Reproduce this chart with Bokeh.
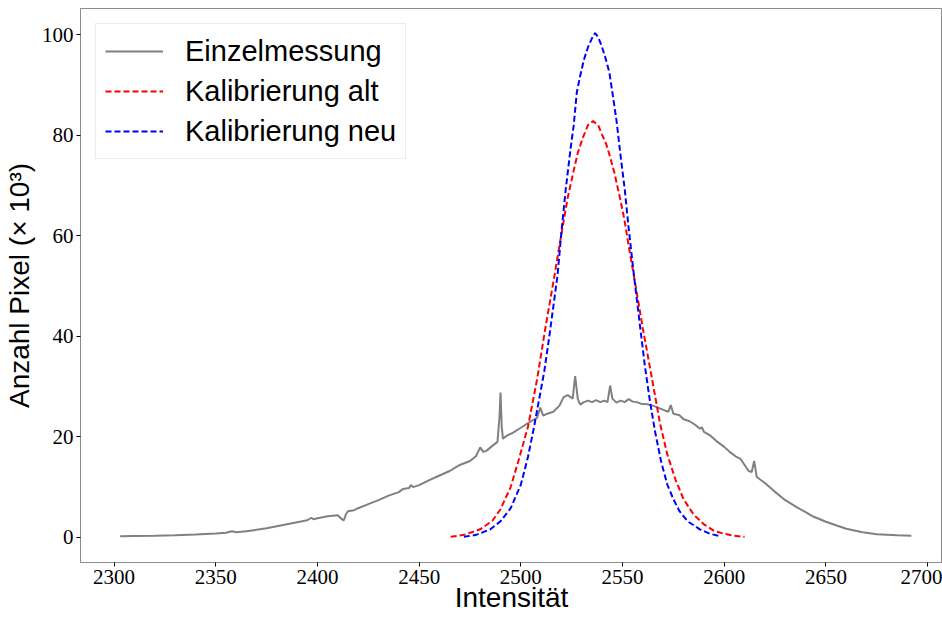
from bokeh.plotting import figure
from bokeh.models import Range1d, Legend, LegendItem, FixedTicker
from bokeh.embed import file_html
from bokeh.resources import INLINE

# Einzelmessung: histogram of a single measurement (counts in thousands)
einzel_x = [2303, 2310, 2320, 2330, 2340, 2350, 2355, 2358, 2360, 2365, 2370, 2375,
            2380, 2385, 2390, 2395, 2397, 2398, 2400, 2405, 2410, 2412, 2413, 2414,
            2415, 2418, 2420, 2425, 2430, 2435, 2440, 2442, 2445, 2446, 2447, 2450,
            2455, 2460, 2465, 2470, 2475, 2478, 2480, 2481.5, 2483, 2486, 2488.5,
            2489.5, 2490, 2490.6, 2491.2, 2493, 2496, 2500, 2503, 2506, 2508, 2509.5,
            2511, 2513, 2516, 2519, 2521, 2523, 2524.5, 2525.5, 2526.7, 2528, 2529.2,
            2531, 2533, 2535, 2537, 2539, 2541, 2542.6, 2543.9, 2545, 2547, 2549,
            2551, 2553, 2555, 2557, 2559, 2562, 2565.5, 2568, 2571, 2572.5, 2573.7,
            2575, 2578, 2580, 2583, 2586, 2588, 2589, 2590, 2593, 2596, 2600, 2603,
            2606, 2608, 2610, 2612, 2613.5, 2614.7, 2616, 2620, 2624.5, 2630, 2636,
            2640, 2644, 2650, 2655.6, 2660, 2668, 2675, 2685, 2692]
einzel_y = [0.2, 0.25, 0.3, 0.4, 0.55, 0.75, 0.9, 1.2, 1.0, 1.2, 1.5, 1.8,
            2.2, 2.6, 3.0, 3.4, 3.9, 3.6, 3.8, 4.2, 4.4, 3.6, 3.4, 4.6,
            5.2, 5.4, 5.8, 6.6, 7.4, 8.3, 9.0, 9.6, 9.8, 10.4, 10.0, 10.4,
            11.4, 12.3, 13.2, 14.4, 15.2, 16.2, 17.9, 17.0, 17.2, 18.2, 19.0,
            24.0, 28.8, 22.0, 19.6, 20.2, 20.8, 21.8, 22.6, 23.3, 23.8, 25.8,
            24.2, 24.6, 25.0, 26.2, 27.9, 28.3, 27.9, 27.6, 32.1, 27.5, 26.4,
            26.9, 27.2, 26.9, 27.3, 26.9, 27.2, 26.9, 30.2, 27.6, 26.8, 27.2,
            26.9, 27.5, 27.0, 26.9, 26.6, 26.5, 26.1, 25.7, 25.2, 25.0, 26.3,
            24.6, 24.3, 23.5, 23.1, 22.3, 21.6, 21.9, 21.0, 20.3, 19.2, 18.0, 16.9,
            16.0, 15.6, 14.4, 13.2, 13.0, 15.2, 12.0, 10.8, 9.2, 7.4, 5.9,
            5.0, 4.1, 3.1, 2.3, 1.7, 1.0, 0.6, 0.4, 0.3]

# Kalibrierung alt
alt_x = [2465.5, 2472, 2480, 2486, 2490, 2495, 2499, 2503.5, 2508, 2512, 2516.5, 2520,
         2523, 2526, 2528, 2530.5, 2533, 2535.5, 2538, 2540, 2542, 2544, 2546, 2549,
         2551, 2553, 2556, 2560, 2564.5, 2568.5, 2572, 2576, 2580, 2585, 2590, 2595,
         2600, 2605, 2610]
alt_y = [0.1, 0.5, 1.6, 3.3, 5.6, 10.0, 15.5, 22.0, 31.5, 41.5, 52.0, 60.5,
         67.5, 73.0, 76.5, 79.5, 82.0, 82.8, 82.0, 80.0, 78.2, 75.5, 72.5, 67.0,
         63.0, 58.0, 51.0, 41.5, 31.5, 22.5, 16.5, 11.5, 7.6, 4.5, 2.6, 1.3,
         0.7, 0.3, 0.1]

# Kalibrierung neu
neu_x = [2472, 2478, 2485, 2490, 2495, 2500, 2503.5, 2506.5, 2509, 2511.5, 2514, 2516,
         2518, 2520, 2522, 2524.5, 2526, 2527.5, 2529, 2531, 2533, 2535, 2536.5, 2538,
         2539.5, 2541.5, 2543.5, 2545, 2547, 2549, 2551, 2553, 2555.5, 2558, 2561,
         2563.5, 2566, 2569, 2572, 2575, 2578, 2582, 2588, 2593, 2598.5]
neu_y = [0.1, 0.5, 1.6, 3.2, 5.8, 10.5, 16.0, 22.0, 27.5, 33.0, 40.0, 46.0,
         52.0, 61.0, 69.0, 77.5, 82.0, 88.5, 91.5, 95.0, 97.5, 99.3, 100.3, 99.5,
         98.0, 95.5, 92.5, 88.5, 83.0, 76.0, 69.5, 61.5, 52.5, 44.0, 34.0,
         27.0, 21.0, 15.0, 10.5, 7.6, 5.2, 3.2, 1.6, 0.7, 0.2]

x_ticks = [2300, 2350, 2400, 2450, 2500, 2550, 2600, 2650, 2700]
y_ticks = [0, 20, 40, 60, 80, 100]

spine = "#8c8c8c"
serif = "Liberation Serif"
sans = "Liberation Sans"
x_lo, x_hi = 2283.5, 2707.3
y_lo, y_hi = -5.0, 105.2

p = figure(width=942, height=617, output_backend="svg", toolbar_location=None,
           x_range=Range1d(x_lo, x_hi), y_range=Range1d(y_lo, y_hi),
           min_border_left=79, min_border_right=0, min_border_top=8,
           min_border_bottom=55)
p.background_fill_color = "white"
p.border_fill_color = "white"
p.outline_line_color = spine
p.grid.visible = False

g = p.line(einzel_x, einzel_y, line_color="gray", line_width=2)
r = p.line(alt_x, alt_y, line_color="red", line_width=2, line_dash="6 3")
b = p.line(neu_x, neu_y, line_color="blue", line_width=2, line_dash="6 3")

for ax, ticks in ((p.xaxis[0], x_ticks), (p.yaxis[0], y_ticks)):
    ax.ticker = FixedTicker(ticks=ticks)
    ax.minor_tick_line_color = None
    ax.major_tick_in = 0
    ax.major_tick_out = 4
    ax.major_tick_line_color = "black"
    ax.axis_line_color = spine
    ax.major_label_text_font = serif
    ax.major_label_text_font_size = "21px"
    ax.major_label_text_color = "black"
    ax.major_label_standoff = 3
    ax.axis_label_text_font = sans
    ax.axis_label_text_font_size = "28px"
    ax.axis_label_text_font_style = "normal"
    ax.axis_label_text_color = "black"

p.xaxis.axis_label = "Intensität"
p.xaxis.axis_label_standoff = -5
p.yaxis.axis_label = "Anzahl Pixel (× 10³)"
p.yaxis.axis_label_standoff = 4

legend = Legend(items=[LegendItem(label="Einzelmessung", renderers=[g]),
                       LegendItem(label="Kalibrierung alt", renderers=[r]),
                       LegendItem(label="Kalibrierung neu", renderers=[b])],
                location="top_left")
legend.label_text_font = sans
legend.label_text_font_size = "29px"
legend.label_text_color = "black"
legend.glyph_width = 58
legend.glyph_height = 36
legend.label_height = 36
legend.label_standoff = 22
legend.spacing = 4
legend.padding = 9
legend.margin = 15
legend.border_line_color = "#d9d9d9"
legend.border_line_width = 1
legend.background_fill_alpha = 0.9
p.add_layout(legend)

open("out.html", "w").write(file_html(p, INLINE))
